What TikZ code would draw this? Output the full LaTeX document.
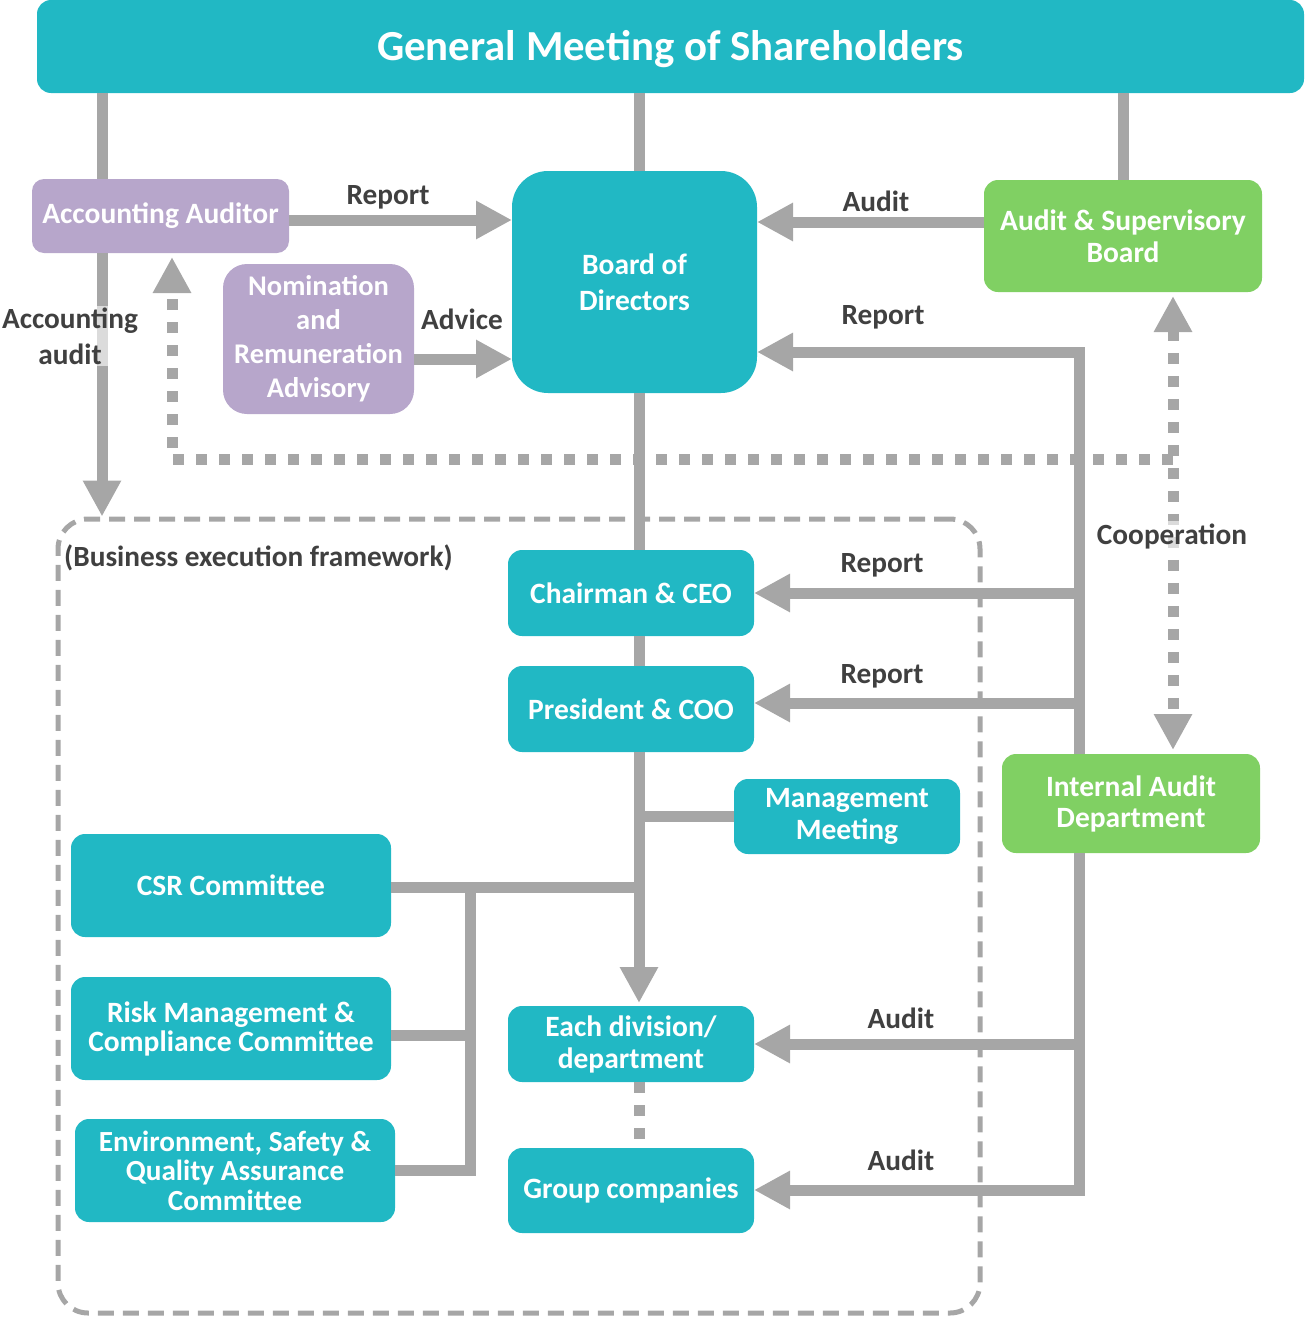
\documentclass[tikz,border=0pt]{standalone}
\usepackage{fontspec}
\setmainfont{Carlito}
\usepackage{tikz}
\usetikzlibrary{arrows.meta}

\definecolor{tealfill}{HTML}{21B8C4}
\definecolor{purplefill}{HTML}{B7A6CB}
\definecolor{greenfill}{HTML}{80D063}
\definecolor{linegray}{HTML}{A6A6A6}
\definecolor{darktext}{HTML}{404040}

\tikzset{
  box/.style={rounded corners=14pt, text=white, align=center, inner sep=0pt, outer sep=0pt,
    font=\bfseries\fontsize{29.5}{32}\selectfont},
  tealbox/.style={box, fill=tealfill},
  purplebox/.style={box, fill=purplefill},
  greenbox/.style={box, fill=greenfill},
  lbl/.style={text=darktext, align=center, inner sep=2pt, font=\bfseries\fontsize{29.3}{36}\selectfont},
  veil/.style={fill=white, fill opacity=0.6, text opacity=1},
  frame/.style={draw=linegray, line width=5pt, dash pattern=on 16pt off 9pt, rounded corners=30pt},
  conn/.style={draw=linegray, line width=11pt, line join=miter},
  arr/.style={conn, -{Triangle[length=36pt, width=36pt]}},
  dotline/.style={draw=linegray, line width=11pt, dash pattern=on 11pt off 12pt},
  dotarr/.style={dotline, {Triangle[length=36pt, width=36pt]}-{Triangle[length=36pt, width=36pt]}}
}

\begin{document}
\begin{tikzpicture}[x=1pt, y=-1pt]
  \useasboundingbox (0,0) rectangle (1304,1317);

  % Define coordinates
  \coordinate (col_aa) at (102, 0);
  \coordinate (col_bd) at (639, 0);
  \coordinate (col_cm) at (470, 0);
  \coordinate (col_dt) at (172, 0);
  \coordinate (ia_top) at (1079, 352);
  \coordinate (ia_bottom) at (1079, 1190);
  \coordinate (coop_turn) at (1173, 459);

  % Business execution framework
  \node[frame, minimum width=922pt, minimum height=794pt] (frame) at (519, 916) {};
  \node[lbl, anchor=west] (frame_title) at (62, 558) {(Business execution framework)};

  % Boxes
  \node[tealbox, minimum width=1267pt, minimum height=93pt, font=\bfseries\fontsize{42.8}{48}\selectfont] (gms) at (670.5, 46.5) {\raisebox{-3pt}[\height][\depth]{General Meeting of Shareholders}};
  \node[purplebox, minimum width=257pt, minimum height=74pt, rounded corners=12pt] (accaud) at (160.5, 216) {Accounting Auditor};
  \node[tealbox, minimum width=245pt, minimum height=222pt, rounded corners=36pt, font=\bfseries\fontsize{29.5}{36}\selectfont] (board) at (634.5, 282) {Board of\\Directors};
  \node[greenbox, minimum width=278pt, minimum height=112pt] (asb) at (1123, 236) {Audit \& Supervisory\\Board};
  \node[purplebox, minimum width=191pt, minimum height=150pt, rounded corners=24pt, font=\bfseries\fontsize{28.5}{34}\selectfont] (nom) at (318.5, 339) {Nomination\\and\\Remuneration\\Advisory};
  \node[tealbox, minimum width=246pt, minimum height=86pt] (ceo) at (631, 593) {Chairman \& CEO};
  \node[tealbox, minimum width=246pt, minimum height=86pt] (coo) at (631, 709) {President \& COO};
  \node[tealbox, minimum width=226pt, minimum height=75pt] (mgmt) at (847, 816.5) {Management\\Meeting};
  \node[greenbox, minimum width=258pt, minimum height=99pt, font=\bfseries\fontsize{29.5}{31}\selectfont] (iad) at (1131, 803.5) {Internal Audit\\Department};
  \node[tealbox, minimum width=320pt, minimum height=103pt] (csr) at (231, 885.5) {CSR Committee};
  \node[tealbox, minimum width=320pt, minimum height=103pt, font=\bfseries\fontsize{29.5}{29}\selectfont] (risk) at (231, 1028.5) {Risk Management \&\\Compliance Committee};
  \node[tealbox, minimum width=320pt, minimum height=103pt, font=\bfseries\fontsize{29.2}{29.5}\selectfont] (env) at (235, 1170.5) {Environment, Safety \&\\Quality Assurance\\Committee};
  \node[tealbox, minimum width=246pt, minimum height=76pt] (div) at (631, 1044) {Each division/\\department};
  \node[tealbox, minimum width=246pt, minimum height=85pt] (grp) at (631, 1190.5) {Group companies};

  % Shareholders down to the boards
  \draw[conn] (gms.south -| col_aa) -- (accaud.north -| col_aa);
  \draw[conn] (gms.south -| col_bd) -- (board.north -| col_bd);
  \draw[conn] (gms.south -| asb.north) -- (asb.north);
  \draw[arr] (accaud.south -| col_aa) -- (frame.north -| col_aa);

  % Execution chain
  \draw[conn] (board.south -| col_bd) -- (ceo.north -| col_bd);
  \draw[conn] (ceo.south -| col_bd) -- (coo.north -| col_bd);
  \draw[arr] (coo.south -| col_bd) -- ([yshift=3pt]div.north -| col_bd);
  \draw[conn] (mgmt.west) -- (mgmt.west -| col_bd);
  \draw[conn] ([yshift=-2pt]csr.east) -- ([yshift=-2pt]csr.east -| col_bd);
  \draw[conn] ([yshift=-2pt]csr.east -| col_cm) -- (env.east -| col_cm) -- (env.east);
  \draw[conn] ([yshift=-7pt]risk.east) -- ([yshift=-7pt]risk.east -| col_cm);
  \draw[dotline] (div.south -| col_bd) -- (grp.north -| col_bd);

  % Reports and advice to the board
  \draw[arr] ([yshift=-4pt]accaud.east) -- ([yshift=-4pt]accaud.east -| board.west);
  \draw[arr] ([yshift=-20pt]nom.east) -- ([yshift=-20pt]nom.east -| board.west);
  \draw[arr] ([yshift=14pt]asb.west) -- ([yshift=14pt]asb.west -| board.east);

  % Internal audit lines
  \draw[arr] (iad.north -| ia_top) -- (ia_top) -- (ia_top -| board.east);
  \draw[arr] (ia_top |- ceo.east) -- (ceo.east);
  \draw[arr] ([yshift=6pt]ia_top |- coo.east) -- ([yshift=6pt]coo.east);
  \draw[arr] (ia_top |- div.east) -- (div.east);
  \draw[arr] (iad.south -| ia_bottom) -- (ia_bottom) -- (ia_bottom -| grp.east);

  % Cooperation
  \draw[dotarr] ([yshift=-4pt]asb.south -| coop_turn) -- ([yshift=4pt]iad.north -| coop_turn);
  \draw[dotline, -{Triangle[length=36pt, width=36pt]}] (coop_turn) -| ([yshift=-4pt]accaud.south -| col_dt);

  % Labels
  \node[lbl] (lbl_rep_aa) at (388, 197) {Report};
  \node[lbl] (lbl_advice) at (462, 319) {Advice};
  \node[lbl] (lbl_audit_asb) at (876, 201) {Audit};
  \node[lbl] (lbl_rep_bd) at (883, 317) {Report};
  \node[lbl] (lbl_rep_ceo) at (882, 565) {Report};
  \node[lbl] (lbl_rep_coo) at (882, 676) {Report};
  \node[lbl] (lbl_audit_div) at (901, 1018) {Audit};
  \node[lbl] (lbl_audit_grp) at (901, 1160) {Audit};
  \node[lbl, veil] (lbl_coop) at (1172, 536) {Cooperation};
  \node[lbl, veil] (lbl_accaudit) at (70, 336) {Accounting\\audit};
\end{tikzpicture}
\end{document}
